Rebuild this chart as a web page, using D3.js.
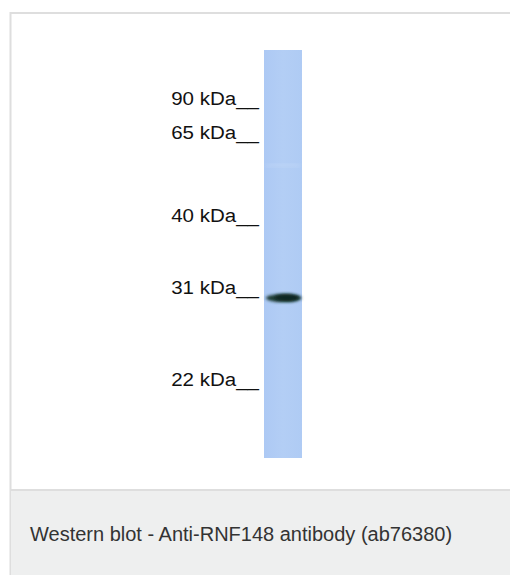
<!DOCTYPE html>
<html>
<head>
<meta charset="utf-8">
<script src="https://cdn.jsdelivr.net/npm/d3@7"></script>
<style>
  body { margin: 0; background: #fff; }
  svg { display: block; font-family: "Liberation Sans", Arial, sans-serif; }
</style>
</head>
<body>
<div id="chart"></div>
<script>
// Marker ladder (kDa) and the bands seen in the lane
var markers = [90, 65, 40, 31, 22];
var bands = [
  {kda: 30.6, strength: 1.0},
  {kda: 57, strength: 0.06}
];
var caption = 'Western blot - Anti-RNF148 antibody (ab76380)';

var W = 510, H = 575;
var svg = d3.select('#chart').append('svg')
    .attr('width', W)
    .attr('height', H);

var defs = svg.append('defs');
defs.append('filter').attr('id', 'blur')
    .attr('x', '-30%').attr('y', '-100%').attr('width', '160%').attr('height', '300%')
  .append('feGaussianBlur').attr('stdDeviation', '1.6 1.4');
defs.append('filter').attr('id', 'blurWide')
  .append('feGaussianBlur').attr('stdDeviation', 2);

var lg = defs.append('linearGradient').attr('id', 'lane')
    .attr('x1', 0).attr('x2', 1).attr('y1', 0).attr('y2', 0);
lg.append('stop').attr('offset', 0).attr('stop-color', '#adc9f4');
lg.append('stop').attr('offset', 0.5).attr('stop-color', '#b3cef5');
lg.append('stop').attr('offset', 1).attr('stop-color', '#afcbf4');

// frame and caption panel
svg.append('rect')
    .attr('x', 10.5).attr('y', 13)
    .attr('width', W + 10).attr('height', H)
    .attr('fill', '#fff')
    .attr('stroke', '#dedede')
    .attr('stroke-width', 2);
svg.append('rect')
    .attr('x', 11).attr('y', 491)
    .attr('width', W - 11).attr('height', H - 491)
    .attr('fill', '#eeefef');
svg.append('line')
    .attr('x1', 10).attr('x2', W)
    .attr('y1', 490).attr('y2', 490)
    .attr('stroke', '#dedede').attr('stroke-width', 2);

svg.append('text')
    .attr('x', 30).attr('y', 541)
    .attr('fill', '#333')
    .style('font-size', '20px')
    .text(caption);

// molecular-weight calibration of the gel
var y = d3.scaleLinear()
    .domain(markers)
    .range([105, 139, 222, 294, 386]);

var laneX = d3.scaleLinear().domain([0, 1]).range([264, 302]);
var laneTop = 50, laneBottom = 458;

svg.append('rect')
    .attr('x', laneX(0)).attr('y', laneTop)
    .attr('width', laneX(1) - laneX(0))
    .attr('height', laneBottom - laneTop)
    .attr('fill', 'url(#lane)');

// bands
var bandG = svg.append('g');
bands.forEach(function(b) {
  if (b.strength > 0.5) {
    bandG.append('ellipse')
        .attr('cx', laneX(0.52)).attr('cy', y(b.kda))
        .attr('rx', (laneX(1) - laneX(0)) * 0.47).attr('ry', 4)
        .attr('fill', '#1d3a33')
        .attr('filter', 'url(#blur)');
    bandG.append('ellipse')
        .attr('cx', laneX(0.6)).attr('cy', y(b.kda) - 0.5)
        .attr('rx', (laneX(1) - laneX(0)) * 0.32).attr('ry', 3.4)
        .attr('fill', '#102620')
        .attr('filter', 'url(#blur)');
  } else {
    bandG.append('rect')
        .attr('x', laneX(0.05)).attr('y', y(b.kda) - 1.5)
        .attr('width', (laneX(1) - laneX(0)) * 0.9).attr('height', 3)
        .attr('fill', '#ffffff')
        .attr('opacity', 0.15)
        .attr('filter', 'url(#blurWide)');
  }
});

// marker labels
svg.append('g')
  .selectAll('text')
  .data(markers)
  .join('text')
    .attr('transform', function(d) { return 'translate(259,' + y(d) + ') scale(1.08,1)'; })
    .attr('text-anchor', 'end')
    .attr('fill', '#111')
    .style('font-size', '19px')
    .text(function(d) { return d + ' kDa__'; });
</script>
</body>
</html>
